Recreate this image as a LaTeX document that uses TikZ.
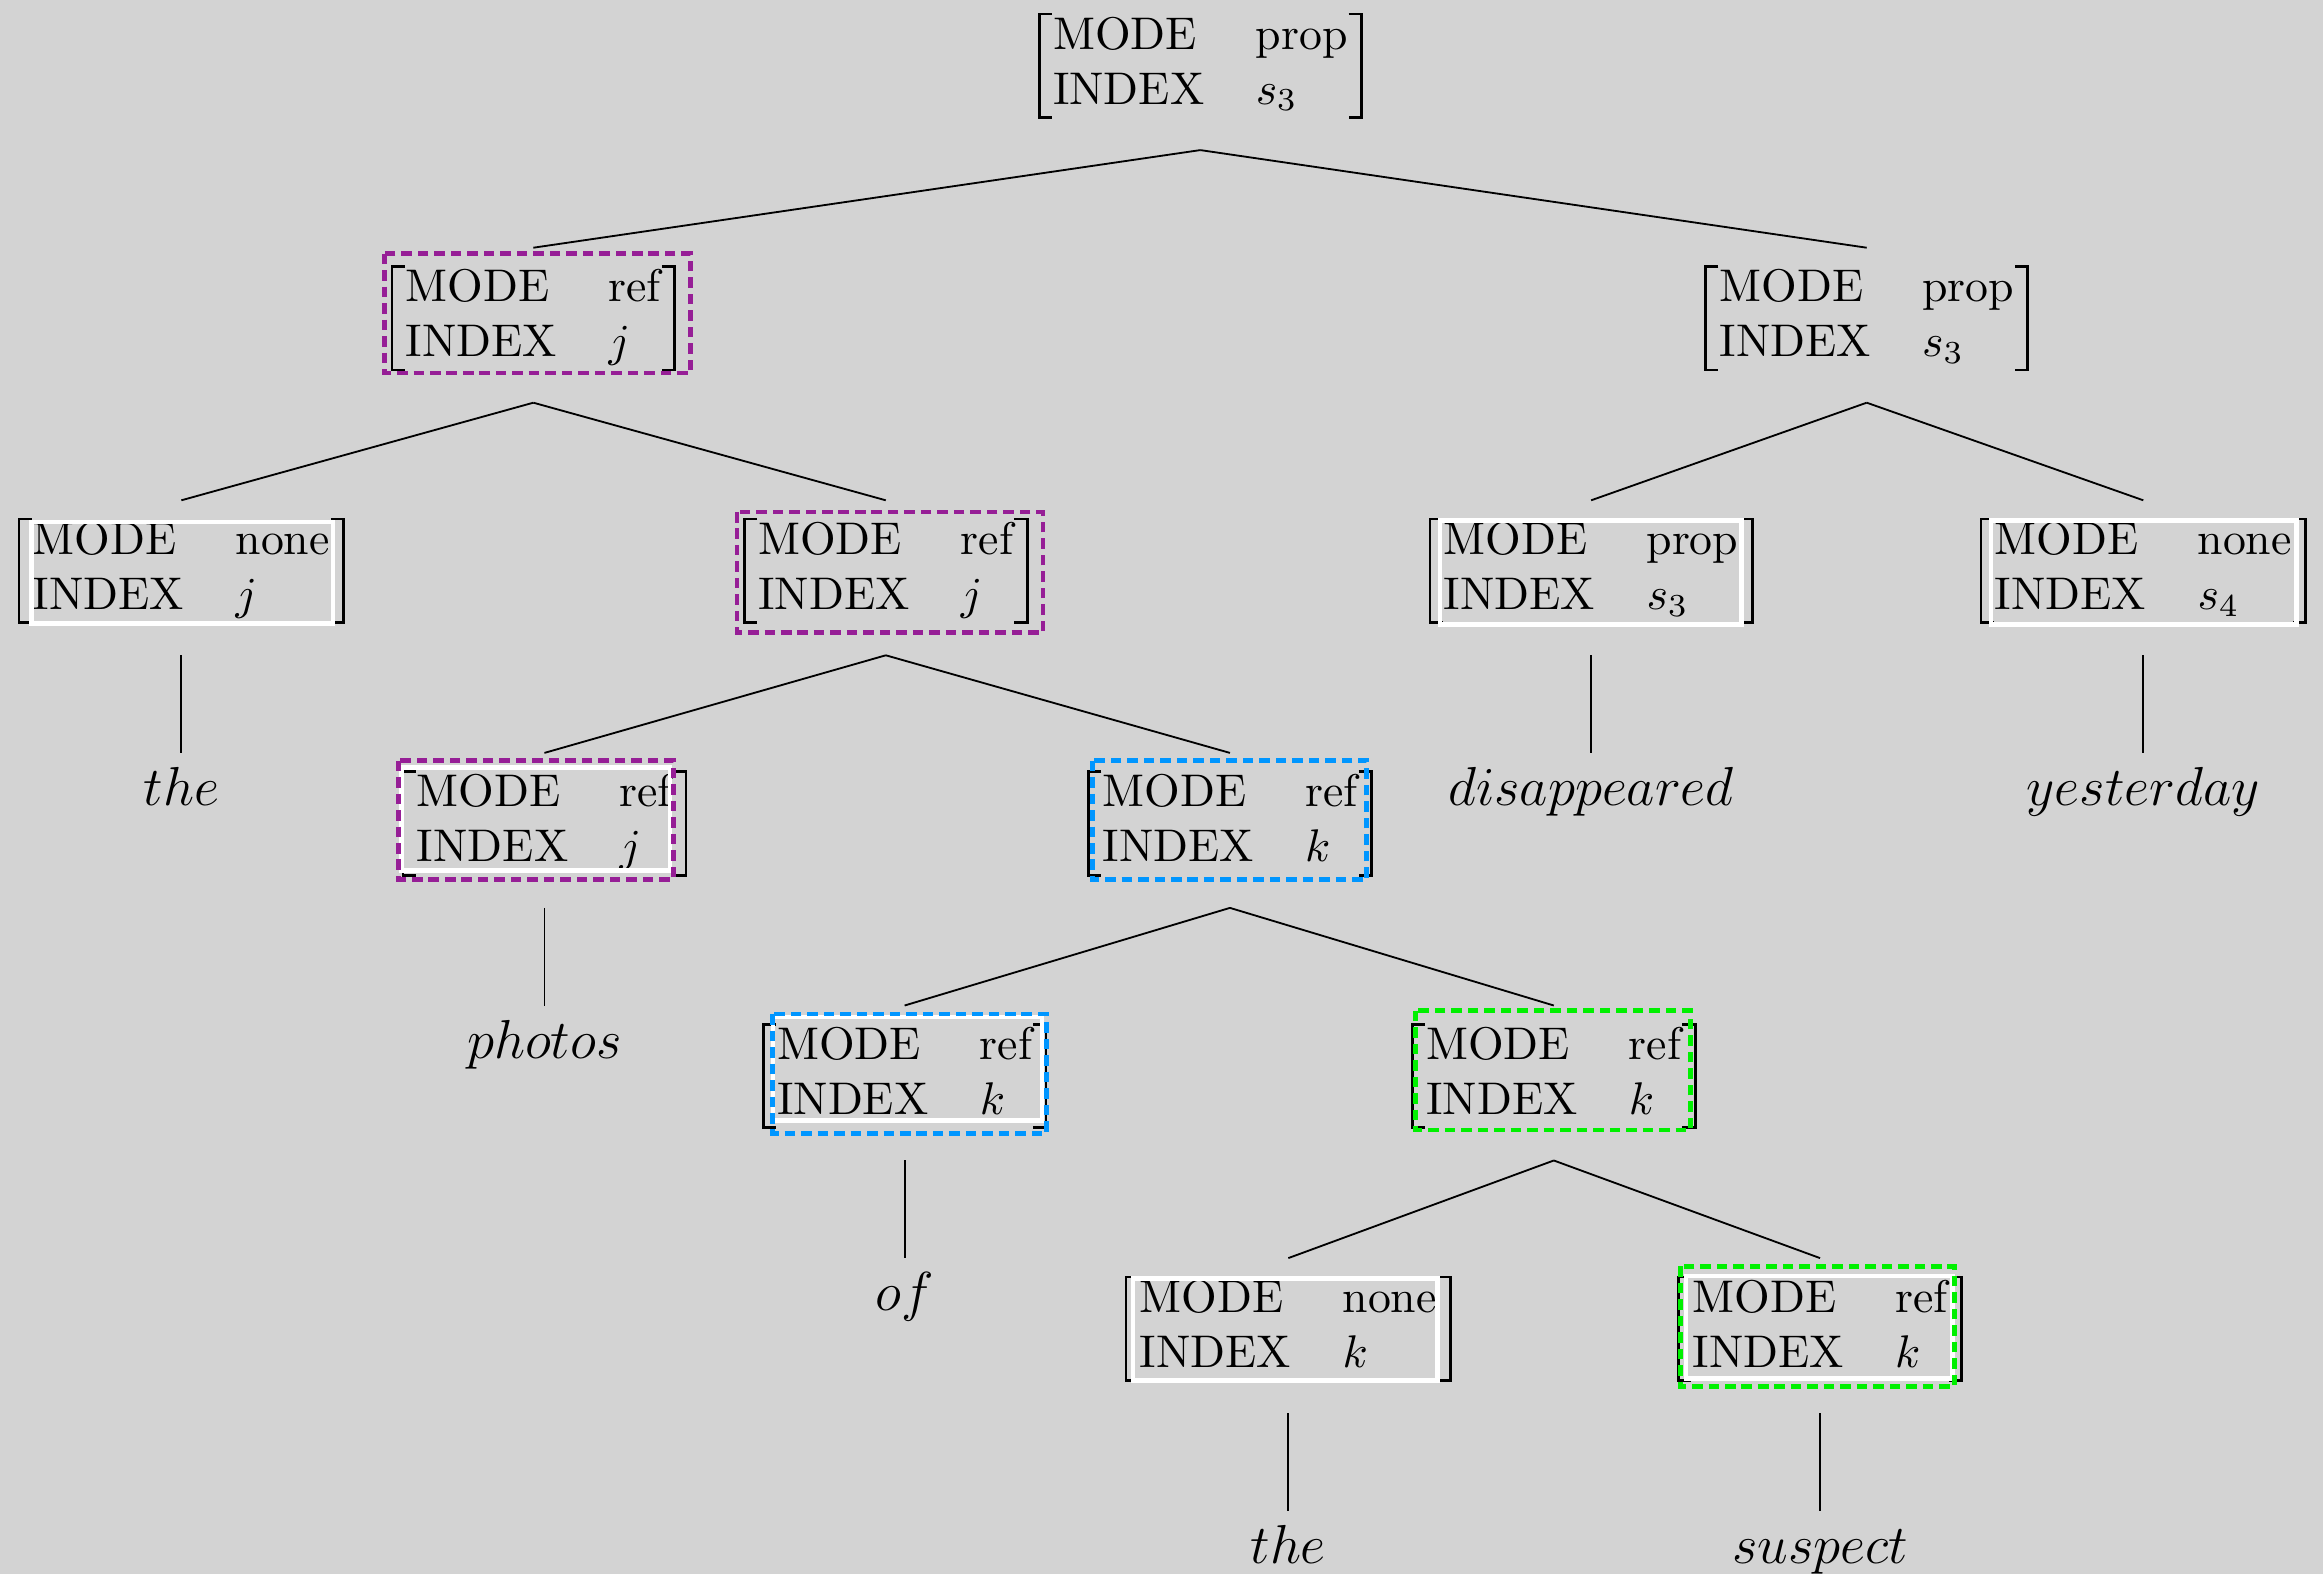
\documentclass[tikz,border=0pt]{standalone}
\usetikzlibrary{calc}
\definecolor{bgc}{RGB}{211,211,211}
\definecolor{mypurple}{RGB}{150,30,150}
\definecolor{myblue}{RGB}{0,150,255}
\definecolor{mygreen}{RGB}{0,240,0}
\tikzset{
  avm/.style={inner xsep=3.05pt, inner ysep=0pt, outer sep=0pt},
  brk/.style={line width=0.6pt, line join=miter},
  edge/.style={line width=0.4pt},
  word/.style={anchor=north, font=\large, inner xsep=0pt, inner ysep=2.9pt, text height=8.4pt, text depth=2.5pt},
  whitebox/.style={draw=white, line width=1pt},
  dbox/.style={line width=1.05pt, dash pattern=on 2.3pt off 1.3pt},
}
\newcommand\avmnode[5]{%
  \node[avm] (#1) at (#2,#3) {\begin{tabular}{@{}l@{\hspace{11.2pt}}l@{}}MODE & #4\\INDEX & #5\end{tabular}};
  \draw[brk] ([xshift=2.8pt,yshift=-0.7pt]#1.north west) -- ([yshift=-0.7pt]#1.north west) -- ([yshift=0.7pt]#1.south west) -- ([xshift=2.8pt,yshift=0.7pt]#1.south west);
  \draw[brk] ([xshift=-2.8pt,yshift=-0.7pt]#1.north east) -- ([yshift=-0.7pt]#1.north east) -- ([yshift=0.7pt]#1.south east) -- ([xshift=-2.8pt,yshift=0.7pt]#1.south east);
}
\newcommand\tedge[2]{\draw[edge] ([yshift=-6.45pt]#1.south) -- ([yshift=3.4pt]#2.north);}
\newcommand\ledge[2]{\draw[edge] ([yshift=-6.45pt]#1.south) -- (#2.north);}
\begin{document}
\begin{tikzpicture}[x=0.3236pt, y=-0.3236pt]
\useasboundingbox (0,0) rectangle (1568,1062);
\fill[bgc] (-10,-10) rectangle (1578,1072);
% AVM nodes
\avmnode{r}{810.2}{44.3}{prop}{$s_3$}
\avmnode{a}{360}{214.8}{ref}{$j$}
\avmnode{b}{1260}{214.8}{prop}{$s_3$}
\avmnode{aa}{122.4}{385.3}{none}{$j$}
\avmnode{ab}{597.9}{385.3}{ref}{$j$}
\avmnode{ba}{1074}{385.3}{prop}{$s_3$}
\avmnode{bb}{1446.7}{385.3}{none}{$s_4$}
\avmnode{aba}{367.5}{555.8}{ref}{$j$}
\avmnode{abb}{830.2}{555.8}{ref}{$k$}
\avmnode{abba}{610.6}{726.3}{ref}{$k$}
\avmnode{abbb}{1048.8}{726.3}{ref}{$k$}
\avmnode{abbba}{869.6}{896.8}{none}{$k$}
\avmnode{abbbb}{1228.5}{896.8}{ref}{$k$}
% words
\node[word] (w1) at (122.4,508.3) {$the$};
\node[word] (w2) at (1074,508.3) {$disappeared$};
\node[word] (w3) at (1446.7,508.3) {$yesterday$};
\node[word] (w4) at (367.5,678.8) {$photos$};
\node[word] (w5) at (610.6,849.3) {$of$};
\node[word] (w6) at (869.6,1019.8) {$the$};
\node[word] (w7) at (1228.5,1019.8) {$suspect$};
% edges
\tedge{r}{a}
\tedge{r}{b}
\tedge{a}{aa}
\tedge{a}{ab}
\tedge{b}{ba}
\tedge{b}{bb}
\tedge{ab}{aba}
\tedge{ab}{abb}
\tedge{abb}{abba}
\tedge{abb}{abbb}
\tedge{abbb}{abbba}
\tedge{abbb}{abbbb}
\ledge{aa}{w1}
\ledge{ba}{w2}
\ledge{bb}{w3}
\ledge{aba}{w4}
\ledge{abba}{w5}
\ledge{abbba}{w6}
\ledge{abbbb}{w7}
% white boxes
\draw[whitebox] (21.1,352.3) rectangle (224.8,421);
\draw[whitebox] (972,351.3) rectangle (1175.5,421.7);
\draw[whitebox] (1344,351.3) rectangle (1550.2,421.7);
\draw[whitebox] (271.1,518) rectangle (452.2,587.4);
\draw[whitebox] (521.7,686.6) rectangle (703.4,756.3);
\draw[whitebox] (764.7,862.9) rectangle (970.3,932);
\draw[whitebox] (1137.9,861.4) rectangle (1318,930.6);
% dashed boxes
\draw[dbox, draw=mypurple] (259.6,171.2) rectangle (466.3,251.8);
\draw[dbox, draw=mypurple] (497.5,345.6) rectangle (704,427.2);
\draw[dbox, draw=mypurple] (269.1,513.4) rectangle (454.7,593.4);
\draw[dbox, draw=myblue] (737.4,513.4) rectangle (922.5,593.9);
\draw[dbox, draw=myblue] (521.2,684.5) rectangle (706.3,765.1);
\draw[dbox, draw=mygreen] (955.5,682.3) rectangle (1141,762.7);
\draw[dbox, draw=mygreen] (1134.5,854.7) rectangle (1319.1,936.1);
\end{tikzpicture}
\end{document}
